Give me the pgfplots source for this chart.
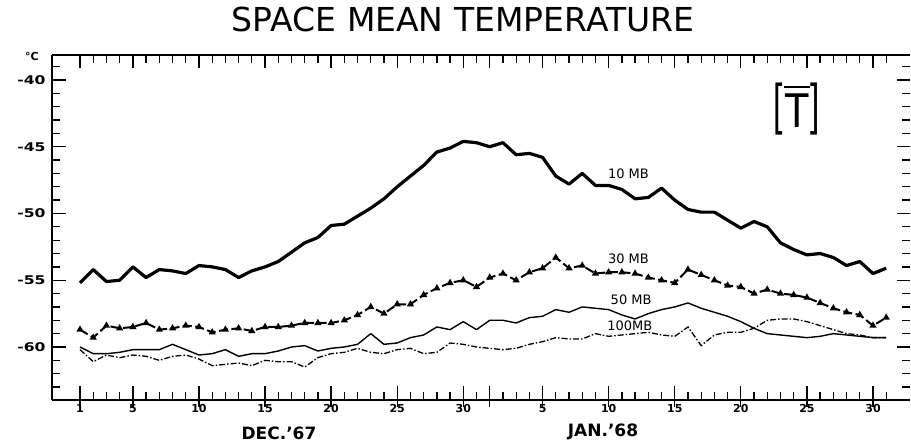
\documentclass[border=0pt]{standalone}
\usepackage{fontspec}
\setmainfont{DejaVu Sans}
\newfontfamily\lib{Liberation Sans}
\usepackage{graphicx}
\usepackage{pgfplots}
\usepackage{pgfplotstable}
\pgfplotsset{compat=1.18}
\newcommand\wide[1]{\scalebox{1.3}[1]{#1}}

\pgfplotstableread{
d t
1 -55.2
2 -54.2
3 -55.1
4 -55.0
5 -54.0
6 -54.8
7 -54.2
8 -54.3
9 -54.5
10 -53.9
11 -54.0
12 -54.2
13 -54.8
14 -54.3
15 -54.0
16 -53.6
17 -52.9
18 -52.2
19 -51.8
20 -50.9
21 -50.8
22 -50.2
23 -49.6
24 -48.9
25 -48.0
26 -47.2
27 -46.4
28 -45.4
29 -45.1
30 -44.6
31 -44.7
32 -45.0
33 -44.7
34 -45.6
35 -45.5
36 -45.8
37 -47.2
38 -47.8
39 -47.0
40 -47.9
41 -47.9
42 -48.2
43 -48.9
44 -48.8
45 -48.1
46 -49.0
47 -49.7
48 -49.9
49 -49.9
50 -50.5
51 -51.1
52 -50.6
53 -51.0
54 -52.2
55 -52.7
56 -53.1
57 -53.0
58 -53.3
59 -53.9
60 -53.6
61 -54.5
62 -54.1
}\tenmb

\pgfplotstableread{
d t
1 -58.7
2 -59.3
3 -58.4
4 -58.6
5 -58.5
6 -58.2
7 -58.7
8 -58.6
9 -58.4
10 -58.5
11 -58.9
12 -58.7
13 -58.6
14 -58.8
15 -58.5
16 -58.5
17 -58.4
18 -58.2
19 -58.2
20 -58.2
21 -58.0
22 -57.6
23 -57.0
24 -57.5
25 -56.8
26 -56.8
27 -56.1
28 -55.6
29 -55.2
30 -55.0
31 -55.5
32 -54.8
33 -54.5
34 -55.0
35 -54.4
36 -54.1
37 -53.3
38 -54.1
39 -53.9
40 -54.5
41 -54.4
42 -54.4
43 -54.5
44 -54.8
45 -55.0
46 -55.2
47 -54.2
48 -54.6
49 -55.0
50 -55.4
51 -55.5
52 -56.0
53 -55.7
54 -56.0
55 -56.1
56 -56.3
57 -56.7
58 -57.1
59 -57.4
60 -57.6
61 -58.4
62 -57.8
}\thirtymb

\pgfplotstableread{
d t
1 -60.0
2 -60.5
3 -60.5
4 -60.4
5 -60.2
6 -60.2
7 -60.2
8 -59.8
9 -60.2
10 -60.6
11 -60.5
12 -60.2
13 -60.7
14 -60.5
15 -60.5
16 -60.3
17 -60.0
18 -59.9
19 -60.3
20 -60.1
21 -60.0
22 -59.8
23 -59.0
24 -59.8
25 -59.7
26 -59.3
27 -59.1
28 -58.5
29 -58.7
30 -58.1
31 -58.7
32 -58.0
33 -58.0
34 -58.2
35 -57.8
36 -57.7
37 -57.2
38 -57.4
39 -57.0
40 -57.1
41 -57.2
42 -57.6
43 -57.9
44 -57.5
45 -57.2
46 -57.0
47 -56.7
48 -57.1
49 -57.4
50 -57.7
51 -58.1
52 -58.6
53 -59.0
54 -59.1
55 -59.2
56 -59.3
57 -59.2
58 -59.0
59 -59.1
60 -59.2
61 -59.3
62 -59.3
}\fiftymb

\pgfplotstableread{
d t
1 -60.2
2 -61.1
3 -60.6
4 -60.8
5 -60.6
6 -60.7
7 -61.0
8 -60.7
9 -60.6
10 -60.9
11 -61.4
12 -61.3
13 -61.2
14 -61.4
15 -61.0
16 -61.1
17 -61.1
18 -61.5
19 -60.8
20 -60.5
21 -60.4
22 -60.1
23 -60.4
24 -60.5
25 -60.2
26 -60.1
27 -60.5
28 -60.4
29 -59.7
30 -59.8
31 -60.0
32 -60.1
33 -60.2
34 -60.1
35 -59.8
36 -59.6
37 -59.3
38 -59.4
39 -59.4
40 -59.0
41 -59.2
42 -59.1
43 -59.0
44 -58.9
45 -59.1
46 -59.2
47 -58.5
48 -59.9
49 -59.1
50 -58.9
51 -58.9
52 -58.6
53 -58.0
54 -57.9
55 -57.9
56 -58.1
57 -58.4
58 -58.7
59 -59.0
60 -59.1
61 -59.3
62 -59.3
}\hundredmb

\pgfplotsset{base/.style={scale only axis, width=858pt, height=345pt,
  xmin=-1.12, xmax=63.8, ymin=-63.97, ymax=-38.13, clip=false,
  tick style={black, line width=1.3pt}}}

\begin{document}
\begin{tikzpicture}
% main axis: data, left and bottom
\begin{axis}[base,
  axis x line*=bottom, axis y line*=left,
  axis line style={line width=1.6pt, -},
  tick align=inside,
  major tick length=14pt, minor tick length=8pt,
  xtick={1,5,10,15,20,25,30,32,36,41,46,51,56,61},
  xticklabels={1,5,10,15,20,25,30,,5,10,15,20,25,30},
  minor xtick={1,...,62},
  ytick={-60,-55,-50,-45,-40},
  yticklabels={\wide{-60},\wide{-55},\wide{-50},\wide{-45},\wide{-40}},
  minor ytick={-63,...,-39},
  xticklabel style={font=\fontsize{11}{11}\selectfont\bfseries, yshift=-1pt},
  yticklabel style={font=\fontsize{12}{12}\selectfont\bfseries, xshift=-3pt},
]
\addplot[black, line width=2pt, mark=triangle*, mark size=2.2pt, mark options={solid},
  dash pattern=on 9pt off 3.5pt] table[x=d,y=t]{\thirtymb};
\addplot[black, line width=1.4pt, line join=round] table[x=d,y=t]{\fiftymb};
\addplot[black, line width=1.3pt, dash pattern=on 6pt off 2pt on 1.5pt off 2pt] table[x=d,y=t]{\hundredmb};
\addplot[black, line width=3.2pt, line join=round] table[x=d,y=t]{\tenmb};
\node[font=\fontsize{13}{13}\selectfont, fill=white, inner sep=1pt] at (axis cs:42.5,-47.0) {10 MB};
\node[font=\fontsize{13}{13}\selectfont, fill=white, inner sep=1pt] at (axis cs:42.5,-53.4) {30 MB};
\node[font=\fontsize{13}{13}\selectfont, fill=white, inner sep=1pt] at (axis cs:42.7,-56.5) {50 MB};
\node[font=\fontsize{13}{13}\selectfont, inner sep=1pt] at (axis cs:42.6,-58.4) {100MB};
\end{axis}
% top and right ticks
\begin{axis}[base,
  axis x line*=top, axis y line*=right,
  axis line style={line width=1.6pt, -},
  y axis line style={draw=none},
  tick align=inside,
  major tick length=13pt, minor tick length=8pt,
  xtick={1,5,10,15,20,25,30,32,36,41,46,51,56,61},
  minor xtick={1,...,62},
  ytick={-60,-55,-50,-45,-40},
  minor ytick={-63,...,-39},
  xticklabels={}, yticklabels={},
]
\end{axis}
% bottom major ticks extending outside
\begin{axis}[base,
  axis x line*=bottom, hide y axis,
  x axis line style={draw=none},
  tick align=outside, major tick length=7pt,
  xtick={1,5,10,15,20,25,30,32,36,41,46,51,56,61},
  xticklabels={},
]
\end{axis}
\node[font=\fontsize{33}{33}\selectfont] at (411pt,381pt) {SPACE MEAN TEMPERATURE};
\node[font=\fontsize{11}{11}\selectfont\bfseries] at (-20pt,344pt) {°C};
\node[font=\fontsize{17}{17}\selectfont\bfseries] at (227pt,-33pt) {DEC.'67};
\node[font=\fontsize{17}{17}\selectfont\bfseries] at (551pt,-32pt) {JAN.'68};
\node[inner sep=0pt] at (745pt,291pt) {\scalebox{0.6}[1]{\lib\fontsize{56}{56}\selectfont [\hspace{0.82em}]}};
\node[inner sep=0pt, anchor=base] at (745pt,272pt) {\scalebox{0.85}[1]{\lib\fontsize{49}{49}\selectfont T}};
\draw[line width=1.8pt] (732pt,313pt) -- (758pt,313pt);
\pgfresetboundingbox
\path[use as bounding box] (-52pt,-42pt) rectangle (859pt,400pt);
\end{tikzpicture}
\end{document}
